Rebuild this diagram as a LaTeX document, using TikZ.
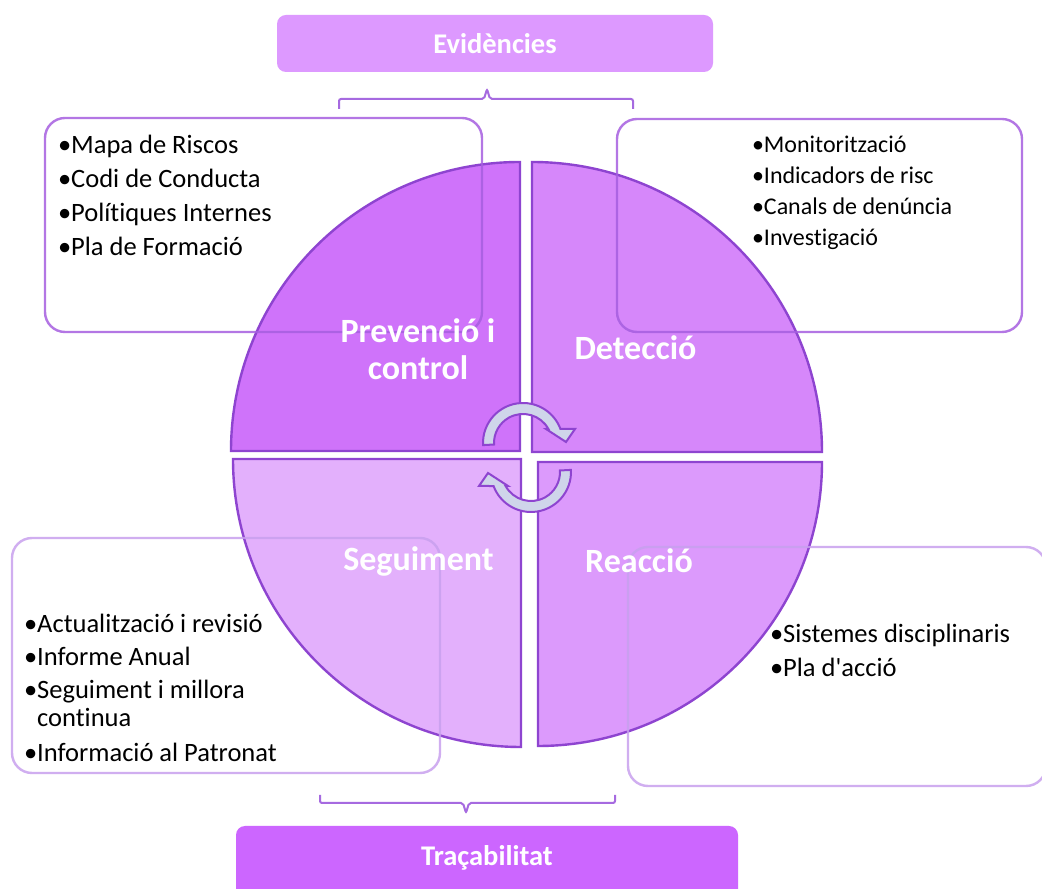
\documentclass[tikz,border=0pt]{standalone}
\usepackage{fontspec}
\setmainfont{Carlito}[Ligatures={NoCommon,NoContextual}]
\usetikzlibrary{positioning}
\definecolor{quadA}{HTML}{CF73FA}
\definecolor{quadB}{HTML}{D687FA}
\definecolor{quadC}{HTML}{DC9AFC}
\definecolor{quadD}{HTML}{E3B0FC}
\definecolor{quadline}{HTML}{8E44D0}
\definecolor{boxline}{HTML}{A65FE0}
\definecolor{boxlight}{HTML}{C8A0EE}
\definecolor{braceline}{HTML}{A66AE0}
\definecolor{evfill}{HTML}{DD99FF}
\definecolor{trfill}{HTML}{CC66FF}
\definecolor{cyclefill}{HTML}{CFD5EA}
\tikzset{
  cyclearrow/.pic={
    \filldraw[draw=quadline, fill=cyclefill, line width=2pt]
      (183:40) arc[start angle=183, end angle=20.5, radius=40pt]
      -- (52,14) -- (43,1) -- (23,14) -- (28.9:29)
      arc[start angle=28.9, end angle=183, radius=29pt] -- cycle;
  }
}
\begin{document}
\begin{tikzpicture}[x=1pt, y=1pt,
  every node/.style={inner sep=0pt},
  quad/.style={draw=quadline, line width=2.4pt},
  listbox/.style={draw=#1, line width=2.4pt, rounded corners=20pt, draw opacity=0.85},
  listtext/.style={anchor=north west, align=left, font=\fontsize{26.5}{34}\selectfont},
  quadlabel/.style={text=white, align=center, font=\fontsize{34}{37}\selectfont\bfseries},
  titlebox/.style={rounded corners=9pt, text=white, font=\fontsize{28.5}{34}\selectfont\bfseries},
  brace/.style={draw=braceline, line width=2pt, rounded corners=2pt}]
  \path[use as bounding box, fill=white] (0,0) rectangle (1042,889);

  \coordinate (prevc) at (520,438);
  \coordinate (detc) at (532,437);
  \coordinate (segc) at (521,430);
  \coordinate (reacc) at (538,427);
  \filldraw[quad, fill=quadA] (prevc) -- +(-289,0) arc[start angle=180, end angle=90, radius=289pt] -- cycle;
  \filldraw[quad, fill=quadB] (detc) -- +(290,0) arc[start angle=0, end angle=90, radius=290pt] -- cycle;
  \filldraw[quad, fill=quadD] (segc) -- +(-288,0) arc[start angle=180, end angle=270, radius=288pt] -- cycle;
  \filldraw[quad, fill=quadC] (reacc) -- +(0,-284) arc[start angle=270, end angle=360, radius=284pt] -- cycle;

  \node[listbox=boxline, minimum width=437pt, minimum height=214pt] (prevbox) at (263.5,664) {};
  \node[listbox=boxline, minimum width=405pt, minimum height=213pt] (detbox) at (819.5,663.5) {};
  \node[listbox=boxlight, minimum width=428pt, minimum height=235pt] (segbox) at (226,233.5) {};
  \node[listbox=boxlight, minimum width=418pt, minimum height=239pt] (reacbox) at (837,222.5) {};

  \pic at (523,446) {cyclearrow};
  \pic[rotate=180] at (531,417) {cyclearrow};

  \node[listtext] (prevtext) at ([shift={(14,-18)}]prevbox.north west)
    {•Mapa de Riscos\\•Codi de Conducta\\•Polítiques Internes\\•Pla de Formació};
  \node[listtext, font=\fontsize{24}{31}\selectfont] (dettext) at ([shift={(136,-18)}]detbox.north west)
    {•Monitorització\\•Indicadors de risc\\•Canals de denúncia\\•Investigació};
  \node[listtext, font=\fontsize{26.5}{33}\selectfont] (segtext) at ([shift={(13,-77)}]segbox.north west)
    {•Actualització i revisió\\•Informe Anual\\•Seguiment i millora\\[-5pt]\phantom{•}continua\\[2pt]•Informació al Patronat};
  \node[listtext] (reactext) at ([shift={(143,-78)}]reacbox.north west)
    {•Sistemes disciplinaris\\•Pla d\textquotesingle acció};

  \node[quadlabel] (prevlabel) at (418,540) {Prevenció i\\control};
  \node[quadlabel] (detlabel) at (635.5,541) {Detecció};
  \node[quadlabel] (seglabel) at (418.5,328) {Seguiment};
  \node[quadlabel] (reaclabel) at (639,328) {Reacció};

  \node[titlebox, fill=evfill, minimum width=436pt, minimum height=57pt] (evid) at (495,845.5) {Evidències};
  \node[titlebox, fill=trfill, minimum width=502pt, minimum height=93pt] (trac) at (487,16.5) {};
  \node[titlebox] (tractext) at (487,31) {Traçabilitat};

  \draw[brace] (339,780) |- (484,790) -- (487,800) -- (490,790) -| (633,780);
  \draw[brace] (320,94) |- (463,86) -- (466,76) -- (469,86) -| (615,94);
\end{tikzpicture}
\end{document}
